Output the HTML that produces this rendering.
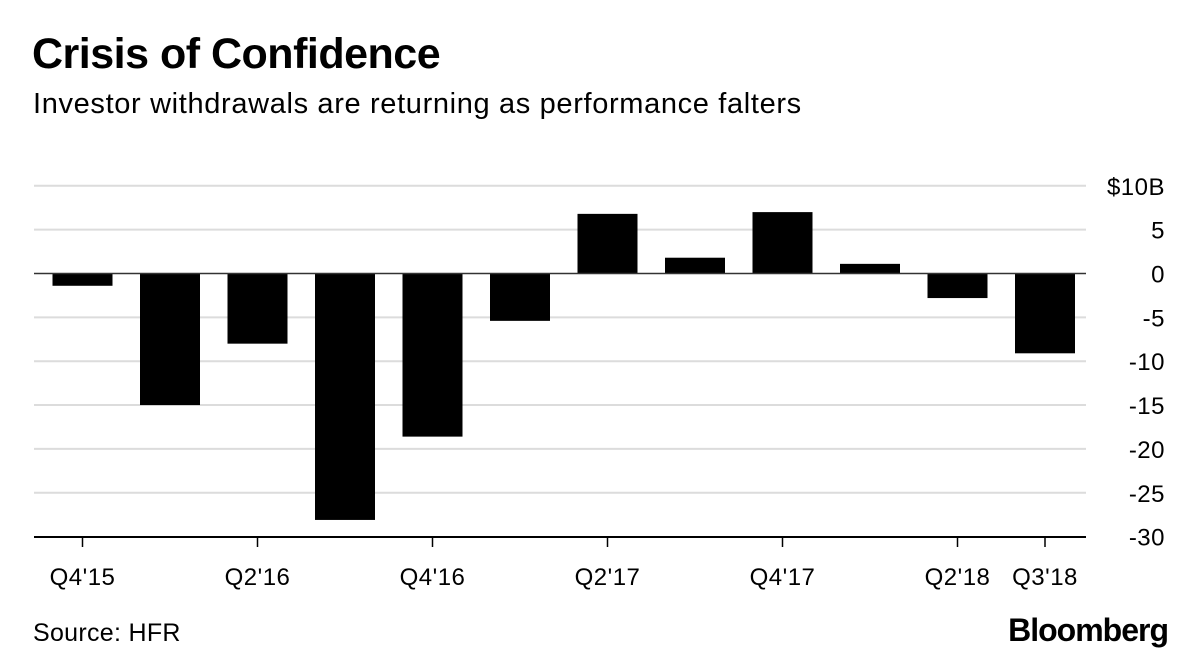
<!DOCTYPE html>
<html><head><meta charset="utf-8"><style>
body{margin:0;width:1200px;height:664px;background:#fff;font-family:"Liberation Sans",sans-serif;overflow:hidden;position:relative}
.t{position:absolute;white-space:nowrap;color:#000}
</style></head><body>
<div class="t" style="left:32px;top:30px;font-size:43px;font-weight:bold;letter-spacing:-0.5px">Crisis of Confidence</div>
<div class="t" style="left:33px;top:88px;font-size:29px;letter-spacing:0.65px">Investor withdrawals are returning as performance falters</div>
<svg id="c" width="1200" height="664" style="position:absolute;left:0;top:0"></svg>
<div class="t" style="left:33px;top:619px;font-size:25px;letter-spacing:0.3px">Source: HFR</div>
<div class="t" style="right:32px;top:612px;font-size:32px;font-weight:bold;letter-spacing:-1px">Bloomberg</div>
<script>
const categories=["Q4'15","Q1'16","Q2'16","Q3'16","Q4'16","Q1'17","Q2'17","Q3'17","Q4'17","Q1'18","Q2'18","Q3'18"];
const values=[-1.4,-15.0,-8.0,-28.1,-18.6,-5.4,6.8,1.8,7.0,1.1,-2.8,-9.1];
const yTicks=[10,5,0,-5,-10,-15,-20,-25,-30];
const xTickLabels=["Q4'15","Q2'16","Q4'16","Q2'17","Q4'17","Q2'18","Q3'18"];
const NS="http://www.w3.org/2000/svg";
const svg=document.getElementById('c');
const y=v=>273.5-(v)*8.77;
const x=i=>82.5+i*87.5;
function el(t,a){const e=document.createElementNS(NS,t);for(const k in a)e.setAttribute(k,a[k]);svg.appendChild(e);return e;}
yTicks.forEach(v=>{
  if(v!==0&&v!==-30){const g=el('line',{x1:34,x2:1086,y1:y(v),y2:y(v),stroke:'#dcdcdc','stroke-width':2});
  
  }
  const t=el('text',{x:1165,y:y(v)+9,'text-anchor':'end','font-size':24,'letter-spacing':0.5,'font-family':'Liberation Sans, sans-serif'});
  t.textContent=(v===10?'$10B':String(v));
  
  
});
values.forEach((v,i)=>{
  const r=el('rect',{x:x(i)-30,width:60,y:Math.min(y(v),y(0)),height:Math.abs(y(v)-y(0)),fill:'#000'});
  
  
});
const z=el('line',{x1:34,x2:1086,y1:y(0),y2:y(0),stroke:'#333','stroke-width':1.5});


const ax=el('line',{x1:34,x2:1086,y1:537,y2:537,stroke:'#000','stroke-width':2});


xTickLabels.forEach(l=>{
  const i=categories.indexOf(l);
  const tk=el('line',{x1:x(i),x2:x(i),y1:537,y2:547,stroke:'#000','stroke-width':1.5});
  
  
  const t=el('text',{x:x(i),y:585,'text-anchor':'middle','font-size':24,'letter-spacing':0.5,'font-family':'Liberation Sans, sans-serif'});
  t.textContent=l;
  
  
});
</script>
</body></html>
